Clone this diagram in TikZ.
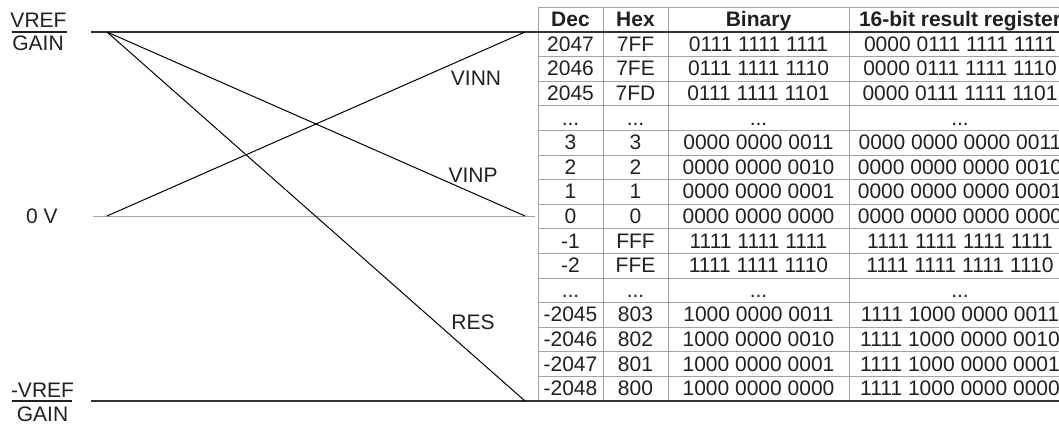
\documentclass[tikz,border=0pt]{standalone}
\usepackage{fontspec}
\setmainfont{Liberation Sans}
\definecolor{txt}{HTML}{231F20}
\definecolor{gridc}{HTML}{A3A3A3}
\begin{document}
\begin{tikzpicture}[x=1pt,y=-1pt,
  lbl/.style={font=\fontsize{21}{24}\selectfont, text=txt, inner sep=0pt},
  cell/.style={lbl, anchor=base},
  hdr/.style={cell, font=\fontsize{21}{24}\selectfont\bfseries},
  sig/.style={line width=1pt, draw=black},
  rail/.style={line width=1.4pt, draw=black!80},
  gridl/.style={line width=1pt, draw=gridc},
  bar/.style={line width=1.2pt, draw=txt}]
\useasboundingbox (0,0) rectangle (1059,423);

% table grid
\draw[gridl] (538,7) -- (1090,7);
\foreach \k in {1,...,14} \draw[gridl] (538,{32+24.6*\k}) -- (1090,{32+24.6*\k});
\foreach \x in {538,603,668,849} \draw[gridl] (\x,7) -- (\x,401);

% rails and signal lines
\coordinate (railTL) at (91,32);  \coordinate (railTR) at (1090,32);
\coordinate (railBL) at (91,401); \coordinate (railBR) at (1090,401);
\coordinate (zL) at (93,216);     \coordinate (zR) at (535,216);
\coordinate (sTop) at (107,32);   \coordinate (sZero) at (107,216);
\coordinate (eTop) at (525,32);   \coordinate (eZero) at (525,216);
\coordinate (eBot) at (525,401);
\draw[gridl] (zL) -- (zR);
\draw[rail] (railTL) -- (railTR);
\draw[rail] (railBL) -- (railBR);
\draw[sig] (sTop) -- (eZero);
\draw[sig] (sZero) -- (eTop);
\draw[sig] (sTop) -- (eBot);

% line labels
\node[lbl] (vinn) at (476,78) {VINN};
\node[lbl] (vinp) at (473,175) {VINP};
\node[lbl] (res) at (473,322) {RES};

% left labels
\node[lbl] (vref) at (38.5,20.5) {VREF};
\node[lbl] (gain) at (38,43) {GAIN};
\coordinate (barA1) at (12,32); \coordinate (barA2) at (67,32);
\draw[bar] (barA1) -- (barA2);
\node[lbl] (zerov) at (42,216) {0 V};
\node[lbl] (nvref) at (42.5,390) {-VREF};
\node[lbl] (ngain) at (42.5,414) {GAIN};
\coordinate (barB1) at (12,401); \coordinate (barB2) at (72,401);
\draw[bar] (barB1) -- (barB2);

% header
\node[hdr] (hdec) at (570.5,27) {Dec};
\node[hdr] (hhex) at (635.5,27) {Hex};
\node[hdr] (hbin) at (758.5,27) {Binary};
\node[hdr] (hres) at (960,27) {16-bit result register};

% rows
\foreach \dec/\hex/\bin/\reg [count=\k from 0] in {
  {2047}/{7FF}/{0111 1111 1111}/{0000 0111 1111 1111},
  {2046}/{7FE}/{0111 1111 1110}/{0000 0111 1111 1110},
  {2045}/{7FD}/{0111 1111 1101}/{0000 0111 1111 1101},
  {...}/{...}/{...}/{...},
  {3}/{3}/{0000 0000 0011}/{0000 0000 0000 0011},
  {2}/{2}/{0000 0000 0010}/{0000 0000 0000 0010},
  {1}/{1}/{0000 0000 0001}/{0000 0000 0000 0001},
  {0}/{0}/{0000 0000 0000}/{0000 0000 0000 0000},
  {-1}/{FFF}/{1111 1111 1111}/{1111 1111 1111 1111},
  {-2}/{FFE}/{1111 1111 1110}/{1111 1111 1111 1110},
  {...}/{...}/{...}/{...},
  {-2045}/{803}/{1000 0000 0011}/{1111 1000 0000 0011},
  {-2046}/{802}/{1000 0000 0010}/{1111 1000 0000 0010},
  {-2047}/{801}/{1000 0000 0001}/{1111 1000 0000 0001},
  {-2048}/{800}/{1000 0000 0000}/{1111 1000 0000 0000}} {
  \pgfmathsetmacro{\yb}{32+24.6*(\k+0.5)+7}
  \node[cell] (d\k) at (570.5,\yb) {\dec};
  \node[cell] (h\k) at (635.5,\yb) {\hex};
  \node[cell] (b\k) at (758.5,\yb) {\bin};
  \node[cell] (r\k) at (960,\yb) {\reg};
}
\end{tikzpicture}
\end{document}
